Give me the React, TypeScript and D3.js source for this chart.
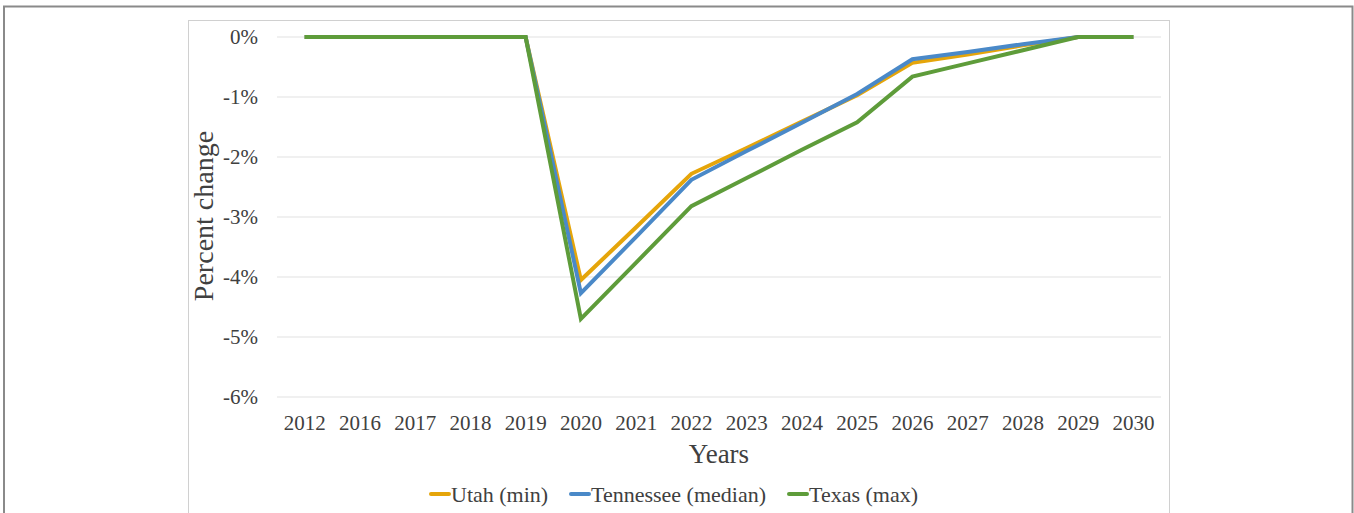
import React from "react";
import * as d3 from "d3";

const years = ["2012","2016","2017","2018","2019","2020","2021","2022","2023","2024","2025","2026","2027","2028","2029","2030"];
const utah = [0,0,0,0,0,-4.05,-3.17,-2.28,-1.85,-1.41,-0.97,-0.43,-0.29,-0.14,0,0];
const tennessee = [0,0,0,0,0,-4.27,-3.33,-2.38,-1.9,-1.43,-0.95,-0.37,-0.25,-0.12,0,0];
const texas = [0,0,0,0,0,-4.7,-3.76,-2.82,-2.35,-1.88,-1.42,-0.66,-0.44,-0.22,0,0];
const yTicks = [0,-1,-2,-3,-4,-5,-6];
const seriesNames = ["Utah (min)","Tennessee (median)","Texas (max)"];
const colors = ["#E5A50A","#4A89C8","#5E9C3A"];

const W = 1354, H = 513;
const FONT = "'Liberation Serif', 'Times New Roman', serif";

export default function App() {
  const x = d3.scaleBand().domain(years).range([277, 1161]);
  const y = d3.scaleLinear().domain([-6, 0]).range([397, 37]);
  const line = d3.line<number>()
    .x((_, i) => (x(years[i]) as number) + x.bandwidth() / 2)
    .y(d => y(d));
  const allSeries = [utah, tennessee, texas];
  const legendX = [430, 570, 788];
  return (
    <svg width={W} height={H} style={{ position: "absolute", left: 0, top: 0, background: "#fff" }}>
      <rect x={4} y={6.5} width={1348.5} height={520} fill="#fff" stroke="#8a8a8a" strokeWidth={2} />
      <rect x={188.5} y={20.5} width={981} height={520} fill="#fff" stroke="#d0d0d0" strokeWidth={1} />
      {yTicks.map(t => (
        <g key={t}>
          <line x1={277} x2={1161} y1={y(t)} y2={y(t)} stroke="#e2e2e2" strokeWidth={1.2} />
          <text x={258} y={y(t)} dy="0.35em" textAnchor="end" fontFamily={FONT} fontSize={21} fill="#404040">
            {`${t}%`}
          </text>
        </g>
      ))}
      {years.map(yr => (
        <text key={yr} x={(x(yr) as number) + x.bandwidth() / 2} y={430} textAnchor="middle" fontFamily={FONT} fontSize={21} fill="#404040">{yr}</text>
      ))}
      <text transform={`translate(213,216) rotate(-90)`} textAnchor="middle" fontFamily={FONT} fontSize={28} fill="#404040">Percent change</text>
      <text x={719} y={463} textAnchor="middle" fontFamily={FONT} fontSize={27} fill="#404040">Years</text>
      {allSeries.map((s, i) => (
        <path key={i} d={line(s) || ""} fill="none" stroke={colors[i]} strokeWidth={4} strokeLinejoin="miter" />
      ))}
      {seriesNames.map((n, i) => (
        <g key={n}>
          <line x1={legendX[i] + 1} x2={legendX[i] + 19} y1={494} y2={494} stroke={colors[i]} strokeWidth={4} strokeLinecap="round" />
          <text x={legendX[i] + 21} y={494} dy="0.35em" fontFamily={FONT} fontSize={22} fill="#404040">{n}</text>
        </g>
      ))}
    </svg>
  );
}
